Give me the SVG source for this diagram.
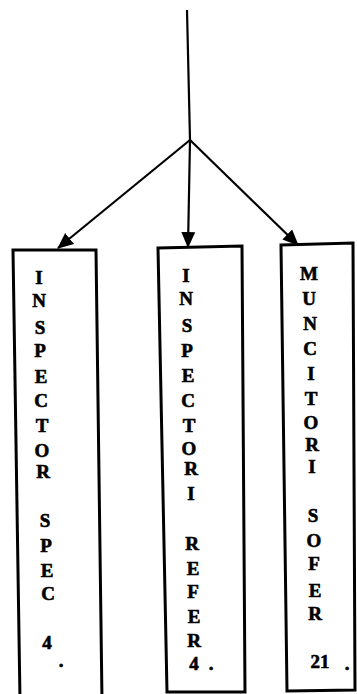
<svg xmlns="http://www.w3.org/2000/svg" width="357" height="694" viewBox="0 0 357 694">
<style>
.box{fill:#fff;stroke:#000;stroke-width:3;stroke-linejoin:miter}
.lbl{font-family:"Liberation Serif","DejaVu Serif",serif;font-weight:bold;font-size:19px;fill:#000;stroke:#000;stroke-width:0.6;text-anchor:middle}
.con{stroke:#000;stroke-width:2.2;fill:none}
</style>
<defs>
<marker id="ah" markerUnits="userSpaceOnUse" markerWidth="16" markerHeight="16" viewBox="0 0 16 16" refX="15" refY="8" orient="auto">
<path d="M0,1 L16,8 L0,15 Z" fill="#000"/>
</marker>
</defs>
<rect width="357" height="694" fill="#fff"/>
<g id="connectors">
<line class="con" x1="187" y1="10" x2="190" y2="140"/>
<line class="con" x1="190" y1="140" x2="58" y2="248" marker-end="url(#ah)"/>
<line class="con" x1="190" y1="140" x2="188" y2="247" marker-end="url(#ah)"/>
<line class="con" x1="190" y1="140" x2="298" y2="245" marker-end="url(#ah)"/>
</g>
<g id="node-inspector-spec">
<path class="box" d="M13,250 L96,250 L102,700 L20,700 Z"/>
<text class="lbl" x="39" y="284">I</text>
<text class="lbl" x="39" y="307">N</text>
<text class="lbl" x="40" y="334">S</text>
<text class="lbl" x="40" y="357">P</text>
<text class="lbl" x="41" y="383">E</text>
<text class="lbl" x="41" y="407">C</text>
<text class="lbl" x="42" y="432">T</text>
<text class="lbl" x="42" y="457">O</text>
<text class="lbl" x="43" y="478">R</text>
<text class="lbl" x="45" y="527">S</text>
<text class="lbl" x="46" y="552">P</text>
<text class="lbl" x="47" y="577">E</text>
<text class="lbl" x="48" y="600">C</text>
<text class="lbl" x="47" y="649">4</text>
<text class="lbl" x="61" y="667">.</text>
</g>
<g id="node-inspectori-refer">
<path class="box" d="M158,248 L242,246 L245,692 L167,692 Z"/>
<text class="lbl" x="186" y="282">I</text>
<text class="lbl" x="186" y="305">N</text>
<text class="lbl" x="187" y="332">S</text>
<text class="lbl" x="187" y="357">P</text>
<text class="lbl" x="188" y="382">E</text>
<text class="lbl" x="188" y="407">C</text>
<text class="lbl" x="189" y="432">T</text>
<text class="lbl" x="189" y="455">O</text>
<text class="lbl" x="191" y="475">R</text>
<text class="lbl" x="191" y="500">I</text>
<text class="lbl" x="192" y="550">R</text>
<text class="lbl" x="193" y="575">E</text>
<text class="lbl" x="193" y="598">F</text>
<text class="lbl" x="194" y="623">E</text>
<text class="lbl" x="194" y="647">R</text>
<text class="lbl" x="194" y="670">4</text>
<text class="lbl" x="211" y="670">.</text>
</g>
<g id="node-muncitori-sofer">
<path class="box" d="M281,245 L353,243 L355,690 L287,691 Z"/>
<text class="lbl" x="309" y="280">M</text>
<text class="lbl" x="309" y="305">U</text>
<text class="lbl" x="310" y="330">N</text>
<text class="lbl" x="310" y="355">C</text>
<text class="lbl" x="311" y="380">I</text>
<text class="lbl" x="311" y="405">T</text>
<text class="lbl" x="311" y="429">O</text>
<text class="lbl" x="312" y="451">R</text>
<text class="lbl" x="312" y="473">I</text>
<text class="lbl" x="313" y="522">S</text>
<text class="lbl" x="314" y="547">O</text>
<text class="lbl" x="314" y="570">F</text>
<text class="lbl" x="315" y="597">E</text>
<text class="lbl" x="315" y="620">R</text>
<text class="lbl" x="320" y="668">21</text>
<text class="lbl" x="347" y="670">.</text>
</g>
</svg>
